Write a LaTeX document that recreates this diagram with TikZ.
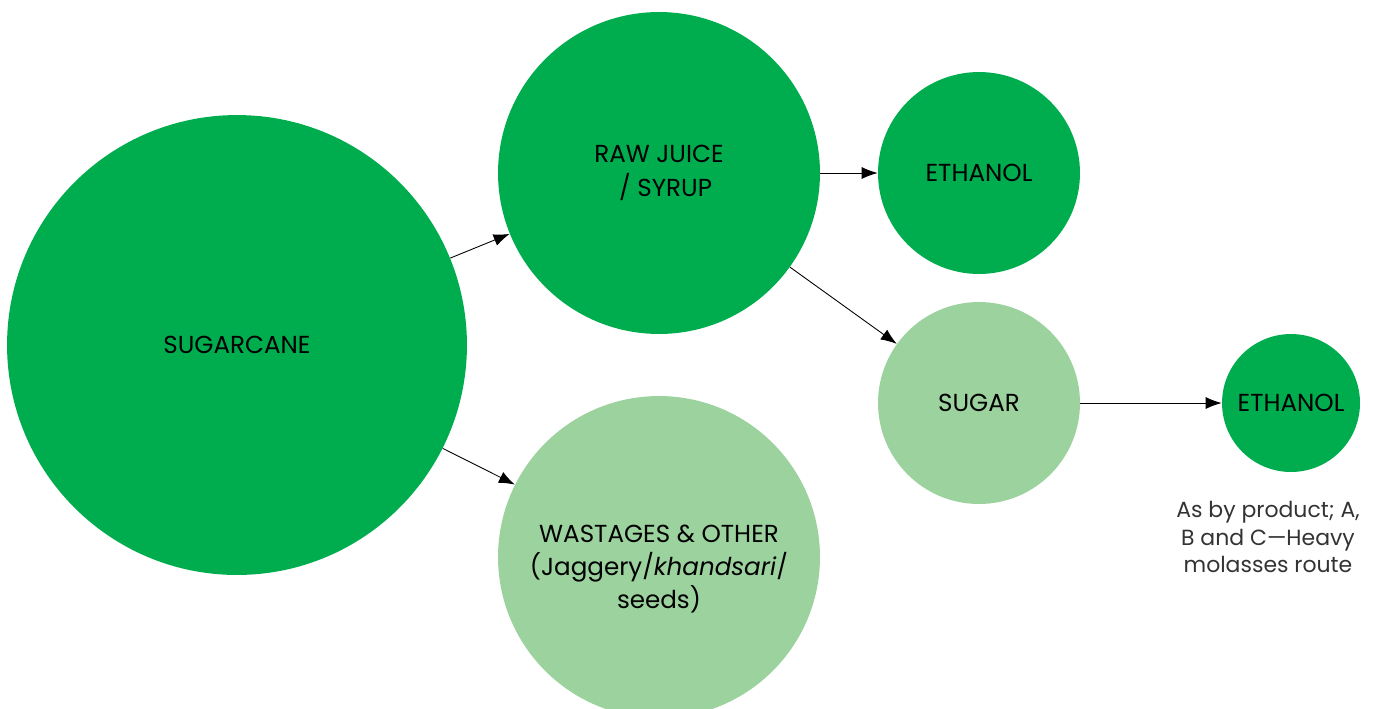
\documentclass[tikz,border=0pt]{standalone}
\usepackage{fontspec}
\setmainfont{Poppins}
\usepackage{tikz}
\usetikzlibrary{arrows.meta}
\usepackage{xcolor}
\definecolor{ColDark}{RGB}{0,173,78}
\definecolor{ColLight}{RGB}{155,210,158}
\tikzstyle{NodeDark}=[circle,fill=ColDark,inner sep=0pt,align=center,font=\fontsize{14}{19}\selectfont]
\tikzstyle{NodeLight}=[circle,fill=ColLight,inner sep=0pt,align=center,font=\fontsize{14}{19}\selectfont]
\tikzstyle{EdgeFlow}=[-{Latex[length=3.2mm,width=2.4mm]},black,line width=0.5pt]
\begin{document}
\begin{tikzpicture}[x=0.02cm,y=-0.02cm]
        \useasboundingbox (0,0) rectangle (1378,708);
        \begin{scope}
        \clip (0,0) rectangle (1378,708);
        \node[NodeDark,minimum size=9.2cm](cane)at(237,345){SUGARCANE};
        \node[NodeDark,minimum size=6.44cm](juice)at(659,173){RAW JUICE\\\ \ / SYRUP};
        \node[NodeDark,minimum size=4.04cm](ethA)at(979,173){ETHANOL};
        \node[NodeLight,minimum size=4.04cm](sugar)at(979,403){SUGAR};
        \node[NodeDark,minimum size=2.76cm](ethB)at(1291,403){ETHANOL};
        \node[NodeLight,minimum size=6.44cm](waste)at(659,557){};
        \end{scope}
        \node[align=center,font=\fontsize{14}{19}\selectfont](wastetext)at(659,569){WASTAGES \& OTHER\\(Jaggery/\textit{khandsari}/\\seeds)};
        \node[align=center,font=\fontsize{12.5}{15.5}\selectfont,color=black!80](note)at(1268,537){As by product; A,\\B and C---Heavy\\molasses route};
        \draw[EdgeFlow](cane)--(juice);
        \draw[EdgeFlow](cane)--(waste);
        \draw[EdgeFlow](juice)--(ethA);
        \draw[EdgeFlow](juice)--(sugar);
        \draw[EdgeFlow](sugar)--(ethB);
    \end{tikzpicture}
\end{document}
